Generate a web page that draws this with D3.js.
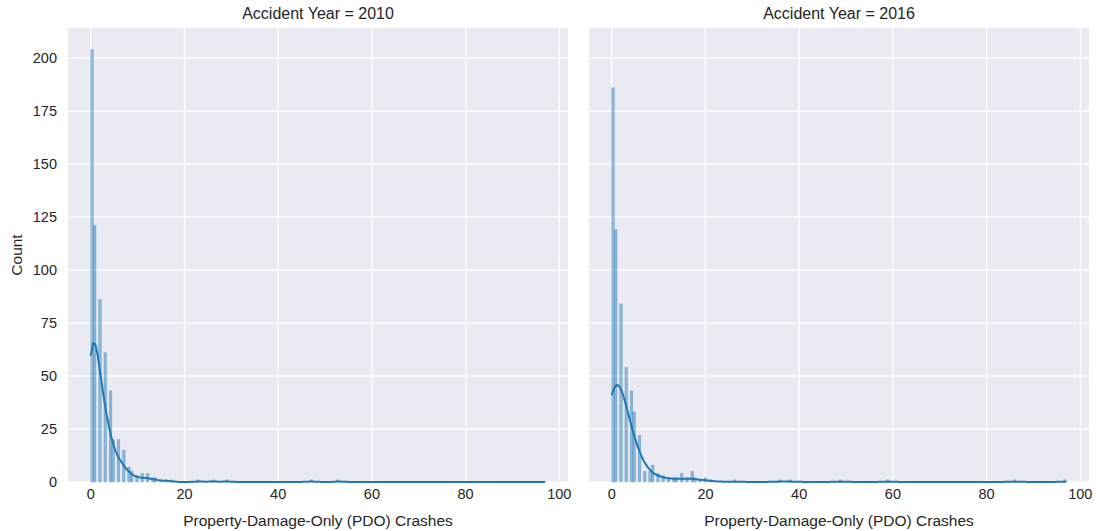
<!DOCTYPE html>
<html>
<head>
<meta charset="utf-8">
<script src="https://cdn.jsdelivr.net/npm/d3@7"></script>
<style>
  body { margin: 0; background: #fff; }
  text { font-family: "Liberation Sans", Arial, sans-serif; fill: #262626; }
</style>
</head>
<body>
<div class="chart"></div>
<script>
// crash counts per location
var years = [2010, 2016];

var crashValues2010 = [0, 1, 2, 3, 4, 5, 6, 7, 8, 9, 10, 11, 12, 13, 14, 15, 16, 17, 23, 26, 29, 47, 53];
var crashCounts2010 = [204, 121, 86, 61, 43, 20, 20, 15, 7, 5, 3, 4, 4, 2, 2, 1, 1, 1, 1, 1, 1, 1, 1];

var crashValues2016 = [0, 1, 2, 3, 4, 5, 6, 7, 8, 9, 10, 11, 12, 13, 14, 15, 16, 17, 18, 19, 20, 21, 26, 36, 38, 49, 59, 86, 97];
var crashCounts2016 = [186, 119, 84, 54, 43, 33, 22, 5, 5, 8, 4, 3, 2, 2, 2, 4, 2, 5, 2, 1, 2, 1, 1, 1, 1, 1, 1, 1, 1];

var xTicks = [0, 20, 40, 60, 80, 100];
var yTicks = [0, 25, 50, 75, 100, 125, 150, 175, 200];

var width = 1096, height = 531;
var margin = { top: 28, bottom: 49 };
var panels = [
  { left: 68, right: 568, values: crashValues2010, counts: crashCounts2010 },
  { left: 589, right: 1089, values: crashValues2016, counts: crashCounts2016 }
];

// common bins over both years (Freedman-Diaconis, like numpy 'auto')
var allObs = [];
panels.forEach(p => p.values.forEach((v, i) => { for (var k = 0; k < p.counts[i]; k++) allObs.push(v); }));
var dataMin = d3.min(allObs), dataMax = d3.max(allObs);
var binCount = d3.thresholdFreedmanDiaconis(allObs, dataMin, dataMax);
var binWidth = (dataMax - dataMin) / binCount;
var xPad = (dataMax - dataMin) * 0.05;

var svg = d3.select('.chart')
  .append('svg')
  .attr('width', width)
  .attr('height', height);

var maxCount = d3.max(panels, p => d3.max(p.counts));
var yScale = d3.scaleLinear()
  .domain([0, maxCount * 1.05])
  .range([height - margin.bottom, margin.top]);

// gaussian kde, scott bandwidth, scaled to counts
function kde(values, counts, xs) {
  var n = d3.sum(counts);
  var mean = d3.sum(values, (v, i) => v * counts[i]) / n;
  var ss = d3.sum(values, (v, i) => counts[i] * (v - mean) * (v - mean));
  var sd = Math.sqrt(ss / (n - 1));
  var h = sd * Math.pow(n, -0.2);
  return xs.map(x => ({
    x: x,
    y: d3.sum(values, (v, i) => counts[i] * Math.exp(-0.5 * ((x - v) / h) ** 2)) / (h * Math.sqrt(2 * Math.PI)) * binWidth
  }));
}

var xs = d3.range(200).map(i => dataMin + i * (dataMax - dataMin) / 199);

panels.forEach((p, pi) => {
  var xScale = d3.scaleLinear()
    .domain([dataMin - xPad, dataMax + xPad])
    .range([p.left, p.right]);

  var g = svg.append('g');

  g.append('rect')
    .attr('x', p.left)
    .attr('y', margin.top)
    .attr('width', p.right - p.left)
    .attr('height', height - margin.bottom - margin.top)
    .attr('fill', '#eaeaf2');

  g.selectAll('.xgrid')
    .data(xTicks)
    .enter()
    .append('line')
    .attr('x1', d => xScale(d))
    .attr('x2', d => xScale(d))
    .attr('y1', margin.top)
    .attr('y2', height - margin.bottom)
    .attr('stroke', '#fff')
    .attr('stroke-width', 1.3);

  g.selectAll('.ygrid')
    .data(yTicks)
    .enter()
    .append('line')
    .attr('x1', p.left)
    .attr('x2', p.right)
    .attr('y1', d => yScale(d))
    .attr('y2', d => yScale(d))
    .attr('stroke', '#fff')
    .attr('stroke-width', 1.3);

  var bars = p.values.map((v, i) => {
    var b = Math.min(Math.floor((v - dataMin) / binWidth), binCount - 1);
    return { x0: dataMin + b * binWidth, x1: dataMin + (b + 1) * binWidth, count: p.counts[i] };
  });

  g.selectAll('.bar')
    .data(bars)
    .enter()
    .append('rect')
    .attr('x', d => xScale(d.x0))
    .attr('y', d => yScale(d.count))
    .attr('width', d => xScale(d.x1) - xScale(d.x0))
    .attr('height', d => yScale(0) - yScale(d.count))
    .attr('fill', 'rgba(31,119,180,0.45)')
    .attr('stroke', 'rgba(31,119,180,0.4)')
    .attr('stroke-width', 0.6);

  var line = d3.line()
    .x(d => xScale(d.x))
    .y(d => yScale(d.y));

  g.append('path')
    .attr('d', line(kde(p.values, p.counts, xs)))
    .attr('fill', 'none')
    .attr('stroke', '#1f77b4')
    .attr('stroke-width', 2);

  g.selectAll('.xlabel')
    .data(xTicks)
    .enter()
    .append('text')
    .attr('x', d => xScale(d))
    .attr('y', height - margin.bottom + 17)
    .attr('text-anchor', 'middle')
    .attr('font-size', 14.5)
    .text(d => d);

  if (pi === 0) {
    g.selectAll('.ylabel')
      .data(yTicks)
      .enter()
      .append('text')
      .attr('x', p.left - 11)
      .attr('y', d => yScale(d) + 5)
      .attr('text-anchor', 'end')
      .attr('font-size', 14.5)
      .text(d => d);

    g.append('text')
      .attr('transform', `translate(22, ${(margin.top + height - margin.bottom) / 2}) rotate(-90)`)
      .attr('text-anchor', 'middle')
      .attr('font-size', 15.5)
      .text('Count');
  }

  g.append('text')
    .attr('x', (p.left + p.right) / 2)
    .attr('y', height - 5)
    .attr('text-anchor', 'middle')
    .attr('font-size', 15.5)
    .text('Property-Damage-Only (PDO) Crashes');

  g.append('text')
    .attr('x', (p.left + p.right) / 2)
    .attr('y', 19)
    .attr('text-anchor', 'middle')
    .attr('font-size', 16)
    .text('Accident Year = ' + years[pi]);
});
</script>
</body>
</html>
